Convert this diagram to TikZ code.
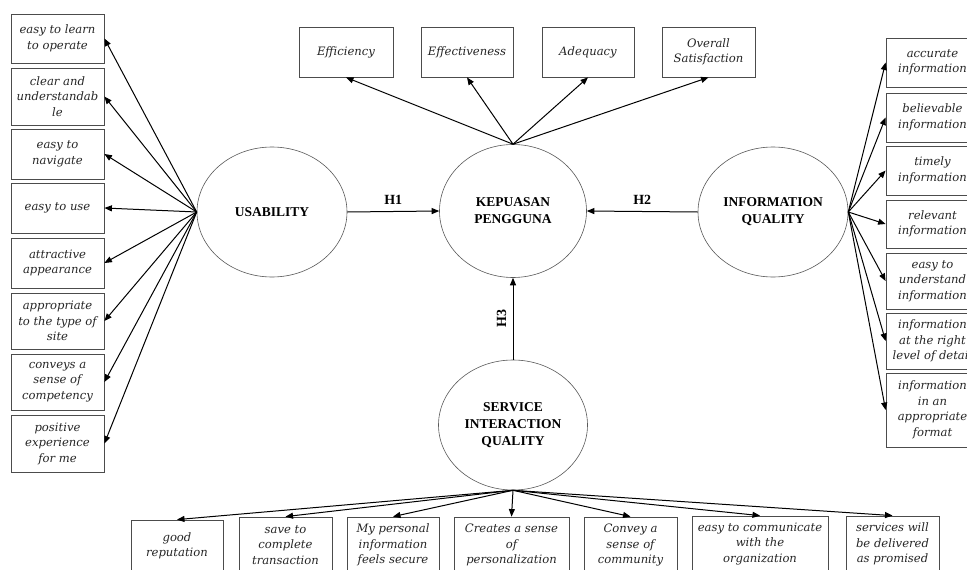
\documentclass[tikz,border=0pt]{standalone}
\usepackage{fontspec}
\setmainfont{Liberation Serif}
\newfontfamily\itfont{DejaVu Serif}
\usetikzlibrary{shapes.geometric,arrows.meta}
\begin{document}
\begin{tikzpicture}[x=1pt,y=-1pt,
  bx/.style={draw=black!70, line width=0.8pt, fill=white, inner sep=1pt, align=center,
    font=\itfont\itshape\fontsize{11.6}{15.5}\selectfont, text=black!85},
  lv/.style={draw=black!65, line width=0.6pt, ellipse, minimum width=150, minimum height=130,
    inner sep=0pt, align=center, font=\bfseries\fontsize{13.5}{17}\selectfont},
  arr/.style={-{Triangle[length=7.5pt,width=6pt]}, line width=1pt},
  hl/.style={font=\bfseries\fontsize{14}{17}\selectfont}]
\clip (0,0) rectangle (967,570);
\fill[white] (0,0) rectangle (967,570);

% latent variables
\node[lv] (usab) at (272,212) {USABILITY};
\node[lv, minimum width=147, minimum height=133] (kep) at (513,211) {KEPUASAN\\PENGGUNA};
\node[lv] (info) at (773,212) {INFORMATION\\QUALITY};
\node[lv, minimum width=149] (serv) at (513,425) {SERVICE\\INTERACTION\\QUALITY};

% left indicators
\node[bx, minimum width=93, minimum height=49] (l1) at (57.5,38.5) {easy to learn\\to operate};
\node[bx, minimum width=93, minimum height=57] (l2) at (57.5,96.5) {clear and\\understandab\\le};
\node[bx, minimum width=93, minimum height=50] (l3) at (57.5,154) {easy to\\navigate};
\node[bx, minimum width=93, minimum height=50] (l4) at (57.5,208) {easy to use};
\node[bx, minimum width=93, minimum height=50] (l5) at (57.5,263) {attractive\\appearance};
\node[bx, minimum width=93, minimum height=56] (l6) at (57.5,321) {appropriate\\to the type of\\site};
\node[bx, minimum width=93, minimum height=56] (l7) at (57.5,382) {conveys a\\sense of\\competency};
\node[bx, minimum width=93, minimum height=57] (l8) at (57.5,443.5) {positive\\experience\\for me};

% top indicators
\node[bx, minimum width=94, minimum height=50] (t1) at (346,52) {Efficiency};
\node[bx, minimum width=92, minimum height=50] (t2) at (467,52) {Effectiveness};
\node[bx, minimum width=92, minimum height=50] (t3) at (588,52) {Adequacy};
\node[bx, minimum width=93, minimum height=50] (t4) at (708.5,52) {Overall\\Satisfaction};

% right indicators
\node[bx, minimum width=93, minimum height=49] (r1) at (932.5,62.5) {accurate\\information};
\node[bx, minimum width=93, minimum height=49] (r2) at (932.5,117.5) {believable\\information};
\node[bx, minimum width=93, minimum height=49] (r3) at (932.5,170.5) {timely\\information};
\node[bx, minimum width=93, minimum height=48] (r4) at (932.5,224) {relevant\\information};
\node[bx, minimum width=93, minimum height=56] (r5) at (932.5,281) {easy to\\understand\\information};
\node[bx, minimum width=93, minimum height=56] (r6) at (932.5,341) {information\\at the right\\level of detail};
\node[bx, minimum width=93, minimum height=74] (r7) at (932.5,410) {information\\in an\\appropriate\\format};

% bottom indicators
\node[bx, minimum width=92, minimum height=52] (b1) at (177,546) {good\\reputation};
\node[bx, minimum width=93, minimum height=56] (b2) at (285.5,545) {save to\\complete\\transaction};
\node[bx, minimum width=92, minimum height=56] (b3) at (393,545) {My personal\\information\\feels secure};
\node[bx, minimum width=115, minimum height=56] (b4) at (511.5,545) {Creates a sense\\of\\personalization};
\node[bx, minimum width=93, minimum height=56] (b5) at (630.5,545) {Convey a\\sense of\\community};
\node[bx, minimum width=136, minimum height=56] (b6) at (760,544) {easy to communicate\\with the\\organization};
\node[bx, minimum width=93, minimum height=56] (b7) at (892.5,544) {services will\\be delivered\\as promised};

% structural paths
\draw[arr] (usab.east) -- node[hl, above=3pt] {H1} (kep.west);
\draw[arr] (info.west) -- node[hl, above=3pt] {H2} (kep.east);
\draw[arr] (serv.north) -- node[hl, rotate=90, above=3pt] {H3} (kep.south);

% measurement arrows
\foreach \b in {l1,l2,l3,l4,l5,l6,l7,l8} \draw[arr] (usab.west) -- (\b.east);
\foreach \b in {t1,t2,t3,t4} \draw[arr] (kep.north) -- (\b.south);
\foreach \b in {r1,r2,r3,r4,r5,r6,r7} \draw[arr] (info.east) -- (\b.west);
\foreach \b in {b1,b2,b3,b4,b5,b6,b7} \draw[arr] (serv.south) -- (\b.north);
\end{tikzpicture}
\end{document}
